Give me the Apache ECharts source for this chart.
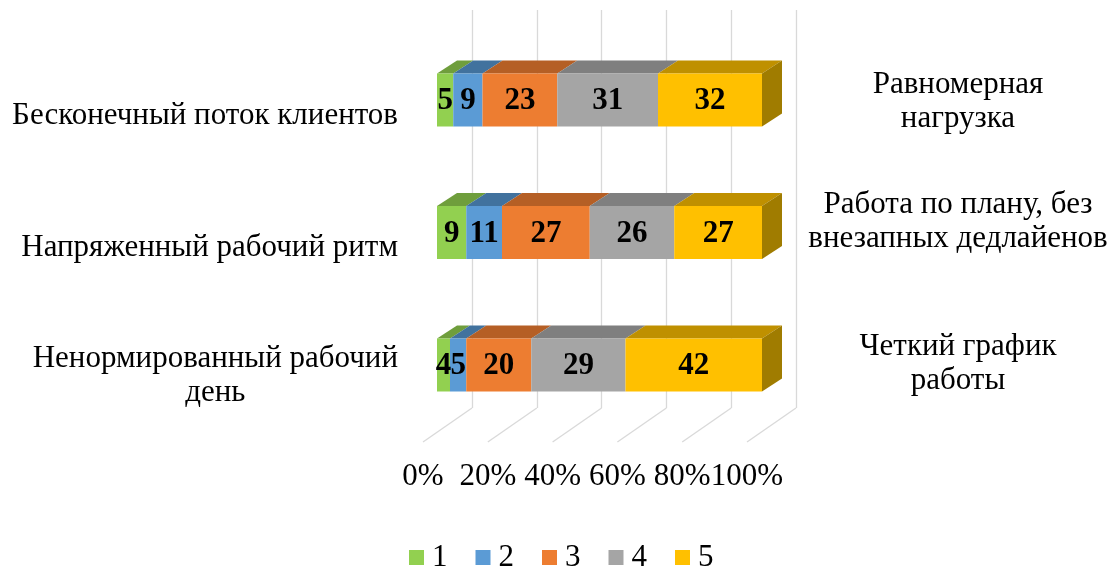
<!DOCTYPE html>
<html>
<head>
<meta charset="utf-8">
<script src="https://cdn.jsdelivr.net/npm/echarts@6/dist/echarts.min.js"></script>
<style>html,body{margin:0;padding:0;background:#fff}#c{width:1113px;height:569px}</style>
</head>
<body>
<div id="c"></div>
<script>
// ---- data ----
const categories = ['Бесконечный поток клиентов', 'Напряженный рабочий ритм', 'Ненормированный рабочий\nдень'];
const rightLabels = ['Равномерная\nнагрузка', 'Работа по плану, без\nвнезапных дедлайенов', 'Четкий график\nработы'];
const seriesNames = ['1', '2', '3', '4', '5'];
const s1 = [5, 9, 4];
const s2 = [9, 11, 5];
const s3 = [23, 27, 20];
const s4 = [31, 26, 29];
const s5 = [32, 27, 42];
const tickValues = [0, 20, 40, 60, 80, 100];

const allSeries = [s1, s2, s3, s4, s5];
const frontColors = ['#92D050', '#5B9BD5', '#ED7D31', '#A5A5A5', '#FFC000'];
const topColors = ['#6F9E3C', '#41729E', '#B55F25', '#7F7F7F', '#BF9000'];
const sideColors = ['#5E8A30', '#335E85', '#9A4E1C', '#6A6A6A', '#A07C00'];
const FONT = "'Liberation Serif', 'Times New Roman', serif";
const FS = 31;
const DX = 20, DY = -13;
const BAR_RATIO = 0.4;

// cumulative starts
const cum = [0, 0, 0];
const customSeries = allSeries.map((vals, si) => {
  const data = vals.map((v, ci) => {
    const st = cum[ci];
    cum[ci] += v;
    return [st, st + v, ci, v];
  });
  const isLast = si === allSeries.length - 1;
  return {
    type: 'custom',
    name: seriesNames[si],
    xAxisIndex: 0,
    yAxisIndex: 0,
    itemStyle: { color: frontColors[si] },
    encode: { x: [0, 1], y: 2 },
    data: data,
    z: 10,
    renderItem: function (params, api) {
      const a = api.coord([api.value(0), api.value(2)]);
      const b = api.coord([api.value(1), api.value(2)]);
      const band = api.size([0, 1])[1];
      const h = band * BAR_RATIO;
      const x0 = a[0], x1 = b[0];
      const yT = a[1] - h / 2, yB = a[1] + h / 2;
      const children = [
        { type: 'polygon', shape: { points: [[x0, yT], [x1, yT], [x1 + DX, yT + DY], [x0 + DX, yT + DY]] },
          style: { fill: topColors[si] } },
        { type: 'rect', shape: { x: x0, y: yT, width: x1 - x0, height: h },
          style: { fill: frontColors[si] } }
      ];
      if (isLast) {
        children.push({ type: 'polygon', shape: { points: [[x1, yT], [x1 + DX, yT + DY], [x1 + DX, yB + DY], [x1, yB]] },
          style: { fill: sideColors[si] } });
      }
      return { type: 'group', children: children };
    }
  };
});

// value labels (drawn on top of all bars)
const labelData = [];
const cum2 = [0, 0, 0];
allSeries.forEach(vals => vals.forEach((v, ci) => { labelData.push([cum2[ci] + v / 2, ci, v]); cum2[ci] += v; }));
const labelSeries = {
  type: 'custom',
  xAxisIndex: 0,
  yAxisIndex: 0,
  data: labelData,
  encode: { x: 0, y: 1 },
  z: 20,
  silent: true,
  renderItem: function (params, api) {
    const p = api.coord([api.value(0), api.value(1)]);
    return { type: 'text', style: { text: String(api.value(2)), x: p[0], y: p[1] + 1,
      align: 'center', verticalAlign: 'middle', font: 'bold ' + FS + 'px ' + FONT, fill: '#000' } };
  }
};

// floor diagonal lines
const floorSeries = {
  type: 'custom',
  xAxisIndex: 1,
  yAxisIndex: 2,
  data: tickValues.map(v => [v, 0]),
  encode: { x: 0, y: 1 },
  silent: true,
  z: 1,
  renderItem: function (params, api) {
    const p = api.coord([api.value(0), 0]);
    return { type: 'line', shape: { x1: p[0], y1: p[1], x2: p[0] - 49, y2: p[1] + 34 },
      style: { stroke: '#D9D9D9', lineWidth: 1.3 } };
  }
};

const leftPads = [[31, 0, 0, 0], [30, 0, 0, 0], [21, 0, 0, 0]];
const leftData = categories.map((c, i) => ({ value: c, textStyle: { align: 'right', padding: leftPads[i] } }));
const rightPads = [[4, 0, 0, 0], [0, 0, 22, 0], [0, 0, 3, 0]];
const rightData = rightLabels.map((c, i) => ({ value: c, textStyle: { align: 'center', padding: rightPads[i] } }));

const richFormatter = function (v) { return v.split('\n').map(s => '{c|' + s + '}').join('\n'); };
const richStyle = { c: { align: 'center', fontFamily: FONT, fontSize: FS, color: '#000', lineHeight: 34 } };

const gridBase = { outerBoundsMode: 'none', containLabel: false };
const option = {
  backgroundColor: '#fff',
  animation: false,
  legend: {
    data: seriesNames.map(n => ({ name: n, icon: 'rect' })),
    bottom: -4,
    left: 409,
    itemWidth: 15,
    itemHeight: 15,
    itemGap: 28,
    padding: 0,
    textStyle: { fontFamily: FONT, fontSize: FS, color: '#000', padding: [0, 0, 0, 3] }
  },
  grid: [
    Object.assign({ left: 437, width: 325, top: 33.75, height: 397.5 }, gridBase),   // bars (front plane)
    Object.assign({ left: 472, width: 324, top: 10, height: 398 }, gridBase),        // back wall
    Object.assign({ left: 423, width: 324, top: 0, height: 442 }, gridBase)          // front floor edge (labels)
  ],
  xAxis: [
    { gridIndex: 0, type: 'value', min: 0, max: 100, show: false },
    { gridIndex: 1, type: 'value', min: 0, max: 100, interval: 20,
      axisLine: { show: false }, axisTick: { show: false }, axisLabel: { show: false },
      splitLine: { show: true, lineStyle: { color: '#D9D9D9', width: 1.3 } } },
    { gridIndex: 2, type: 'value', min: 0, max: 100, interval: 20,
      axisLine: { show: false }, axisTick: { show: false }, splitLine: { show: false },
      axisLabel: { margin: 19, formatter: '{value}%', fontFamily: FONT, fontSize: FS, color: '#000' } }
  ],
  yAxis: [
    { gridIndex: 0, type: 'category', inverse: true, data: leftData,
      axisLine: { show: false }, axisTick: { show: false },
      axisLabel: { margin: 39, align: 'right', fontFamily: FONT, fontSize: FS, color: '#000', lineHeight: 34,
        formatter: richFormatter, rich: richStyle } },
    { gridIndex: 0, type: 'category', inverse: true, position: 'right', data: rightData,
      axisLine: { show: false }, axisTick: { show: false },
      axisLabel: { margin: 196, align: 'center', fontFamily: FONT, fontSize: FS, color: '#000', lineHeight: 34,
        formatter: richFormatter, rich: richStyle } },
    { gridIndex: 1, type: 'value', min: 0, max: 1, show: false },
    { gridIndex: 2, type: 'value', min: 0, max: 1, show: false }
  ],
  series: [floorSeries].concat(customSeries).concat([labelSeries])
};

const chart = echarts.init(document.getElementById('c'), null, { renderer: 'canvas' });
chart.setOption(option);
</script>
</body>
</html>
